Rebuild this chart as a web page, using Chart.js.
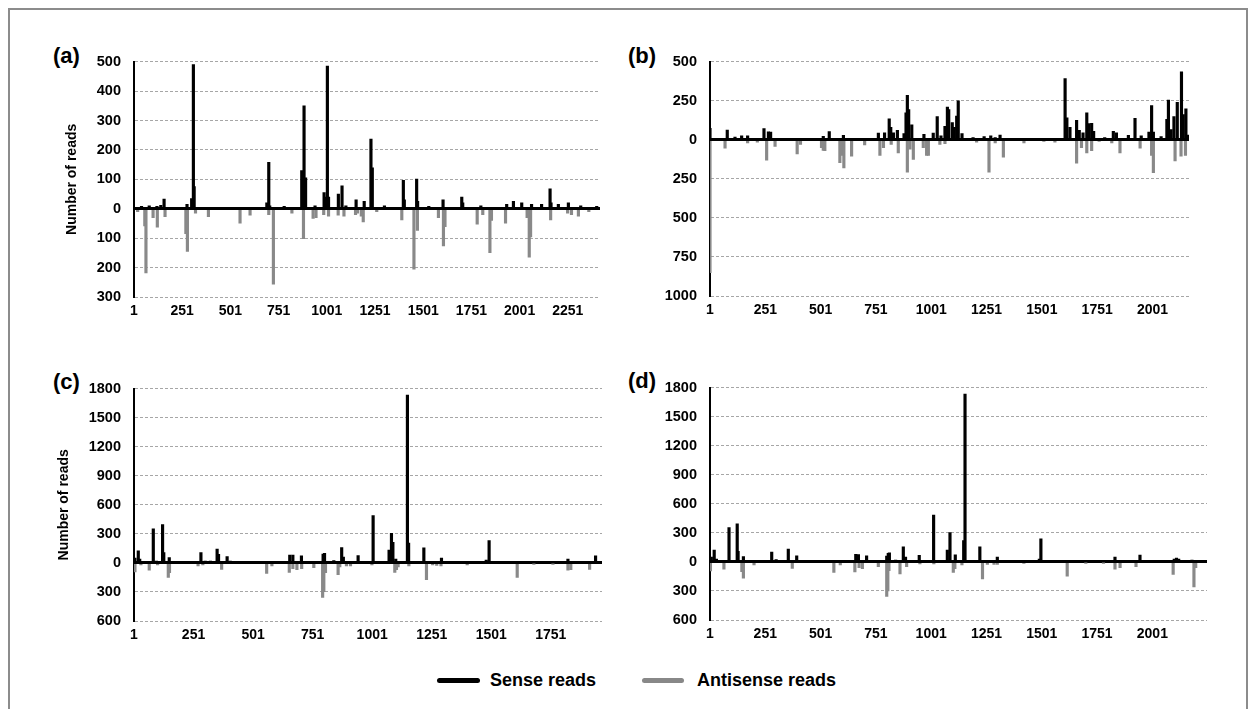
<!DOCTYPE html>
<html>
<head>
<meta charset="utf-8">
<script src="https://cdn.jsdelivr.net/npm/chart.js@4.4.0/dist/chart.umd.min.js"></script>
<style>
  body { margin: 0; background: #fff; font-family: "Liberation Sans", Arial, sans-serif; }
  #frame { position: absolute; left: 8px; top: 8px; width: 1240px; height: 730px; border: 2px solid #8c8c8c; box-sizing: border-box; }
  .box { position: absolute; }
  .tag { position: absolute; font-weight: bold; font-size: 22px; line-height: 22px; color: #000; }
  .key { position: absolute; height: 5px; border-radius: 3px; }
  .keytext { position: absolute; font-weight: bold; font-size: 18px; line-height: 20px; color: #000; }
</style>
</head>
<body>
<div id="frame"></div>

<div class="tag" style="left:53px;top:45px">(a)</div>
<div class="tag" style="left:628px;top:45px">(b)</div>
<div class="tag" style="left:53px;top:371px">(c)</div>
<div class="tag" style="left:628px;top:370px">(d)</div>

<div class="box" style="left:48px;top:40px;width:556px;height:285px"><canvas id="chartA"></canvas></div>
<div class="box" style="left:624px;top:40px;width:569px;height:284px"><canvas id="chartB"></canvas></div>
<div class="box" style="left:48px;top:367px;width:558px;height:282px"><canvas id="chartC"></canvas></div>
<div class="box" style="left:624px;top:366px;width:587px;height:282px"><canvas id="chartD"></canvas></div>

<!-- 凡例 -->
<div class="key" style="left:437px;top:678px;width:43px;background:#000"></div>
<div class="keytext" style="left:490px;top:670px">Sense reads</div>
<div class="key" style="left:642px;top:678px;width:42px;background:#888"></div>
<div class="keytext" style="left:697px;top:670px">Antisense reads</div>

<script>
// 位置, リード数
const senseA = [[5,5],[40,8],[80,10],[120,8],[140,12],[157,33],[276,15],[300,35],[309,490],[313,75],[350,5],[420,4],[500,5],[620,5],[690,20],[700,158],[705,10],[780,8],[871,130],[877,50],[883,350],[891,105],[940,10],[987,55],[995,40],[1004,485],[1010,40],[1061,50],[1080,78],[1100,10],[1153,30],[1195,25],[1230,237],[1237,139],[1300,10],[1398,97],[1403,30],[1467,101],[1472,25],[1530,8],[1604,30],[1701,40],[1706,20],[1800,10],[1934,15],[1969,25],[2012,20],[2063,15],[2115,15],[2159,68],[2164,20],[2202,15],[2254,20],[2318,10],[2401,8]]
const antiA = [[20,10],[57,58],[63,218],[100,30],[122,63],[162,27],[270,85],[278,145],[320,15],[387,27],[551,49],[603,22],[700,20],[724,256],[820,15],[880,102],[930,33],[945,30],[985,20],[1010,25],[1060,22],[1090,25],[1150,20],[1160,15],[1180,25],[1190,45],[1260,10],[1390,38],[1453,205],[1471,74],[1580,30],[1606,126],[1614,61],[1781,52],[1810,20],[1847,149],[1855,40],[1928,49],[2040,30],[2051,165],[2058,96],[2162,38],[2250,15],[2270,20],[2306,25],[2360,10]]

const senseB = [[1,74],[40,5],[79,63],[114,18],[144,25],[171,25],[200,8],[245,72],[265,51],[275,50],[350,6],[450,5],[513,23],[540,53],[604,29],[680,10],[762,43],[790,45],[811,135],[818,80],[830,45],[848,60],[878,40],[887,172],[893,285],[899,193],[913,96],[968,35],[1010,43],[1028,148],[1045,25],[1063,86],[1074,209],[1080,193],[1096,111],[1105,80],[1116,152],[1123,250],[1140,40],[1190,15],[1240,20],[1270,25],[1290,15],[1312,30],[1420,10],[1580,10],[1606,392],[1614,141],[1628,80],[1658,125],[1670,60],[1687,45],[1704,172],[1712,104],[1726,106],[1735,55],[1785,15],[1824,55],[1838,45],[1892,29],[1922,137],[1950,25],[1985,49],[1997,219],[2005,50],[2040,20],[2066,131],[2073,254],[2085,65],[2098,148],[2113,240],[2132,435],[2140,162],[2152,199],[2160,30]]
const antiB = [[1,850],[69,53],[171,20],[215,15],[257,131],[295,43],[395,90],[410,30],[505,50],[513,68],[520,70],[588,146],[597,100],[606,180],[641,105],[700,33],[769,100],[785,50],[820,30],[852,84],[893,207],[905,60],[920,125],[965,50],[980,100],[988,100],[1040,30],[1063,25],[1206,15],[1262,207],[1290,20],[1327,111],[1420,20],[1510,10],[1560,15],[1658,150],[1680,50],[1704,84],[1726,70],[1760,10],[1817,20],[1854,84],[1945,53],[1997,100],[2005,211],[2103,135],[2130,105],[2150,100]]

const senseC = [[5,50],[19,126],[25,40],[60,10],[82,353],[95,20],[121,396],[126,106],[149,56],[200,10],[230,15],[282,106],[300,20],[322,20],[350,142],[356,90],[392,66],[405,20],[470,8],[560,10],[600,8],[655,82],[668,80],[704,73],[760,10],[795,92],[801,100],[840,25],[873,158],[880,60],[942,76],[1005,488],[1072,132],[1082,307],[1088,214],[1100,40],[1149,1733],[1154,205],[1218,155],[1292,50],[1350,10],[1430,10],[1480,30],[1492,231],[1600,8],[1700,10],[1823,40],[1939,73]]
const antiC = [[5,92],[30,20],[65,76],[100,20],[145,149],[150,100],[270,30],[290,20],[369,66],[558,109],[580,30],[653,99],[668,60],[685,70],[705,60],[756,50],[793,356],[798,297],[805,100],[858,122],[865,40],[893,30],[910,30],[1000,20],[1096,99],[1103,70],[1110,40],[1155,30],[1229,172],[1255,20],[1272,25],[1290,30],[1400,20],[1610,149],[1680,10],[1760,10],[1823,76],[1835,70],[1914,66]]

const senseD = [[7,50],[20,122],[30,30],[87,354],[124,393],[128,110],[152,56],[200,15],[280,102],[300,25],[355,132],[393,62],[420,15],[530,10],[640,15],[660,79],[672,75],[709,62],[760,10],[800,60],[807,89],[812,95],[840,20],[875,155],[885,50],[947,69],[1012,485],[1074,122],[1086,304],[1110,73],[1148,220],[1154,1734],[1221,155],[1250,15],[1300,50],[1380,10],[1490,30],[1497,238],[1600,10],[1700,10],[1832,50],[1945,72],[2100,30],[2110,40],[2120,30],[2180,20]]
const antiD = [[3,92],[64,76],[145,100],[152,168],[200,30],[373,66],[561,109],[590,30],[656,102],[675,60],[690,70],[762,50],[800,356],[805,300],[810,90],[860,125],[890,50],[950,20],[1013,20],[1101,109],[1108,70],[1140,30],[1233,175],[1255,25],[1285,25],[1300,25],[1420,15],[1616,148],[1700,10],[1780,10],[1832,76],[1855,60],[1927,50],[2095,128],[2189,257],[2197,60]]

// 横軸の目盛り
const ticksA = [1, 251, 501, 751, 1001, 1251, 1501, 1751, 2001, 2251]
const ticksB = [1, 251, 501, 751, 1001, 1251, 1501, 1751, 2001]
const ticksC = [1, 251, 501, 751, 1001, 1251, 1501, 1751]
const ticksD = [1, 251, 501, 751, 1001, 1251, 1501, 1751, 2001]

const isZero = c => c.tick && c.tick.value === 0

function drawPanel(id, sense, anti, ticksX, xMax, yMin, yMax, yStep, titlePad) {
  const ctx = document.getElementById(id).getContext('2d')
  return new Chart(ctx, {
    type: 'bar',
    data: {
      datasets: [
        { label: 'Antisense reads', data: anti.map(p => ({ x: p[0], y: -p[1] })), backgroundColor: '#898989' },
        { label: 'Sense reads', data: sense.map(p => ({ x: p[0], y: p[1] })), backgroundColor: '#000' }
      ]
    },
    options: {
      animation: false,
      responsive: true,
      maintainAspectRatio: false,
      layout: { padding: { top: 12, right: 4, left: 0, bottom: 0 } },
      plugins: { legend: { display: false }, tooltip: { enabled: false } },
      datasets: { bar: { barThickness: 2.5, grouped: false } },
      scales: {
        x: {
          type: 'linear', min: 1, max: xMax, offset: false,
          grid: { display: false, drawTicks: false },
          border: { display: false },
          afterBuildTicks: s => { s.ticks = ticksX.map(v => ({ value: v })) },
          afterFit: s => { s.height = 28 },
          ticks: { color: '#000', padding: 6, maxRotation: 0, autoSkip: false,
                   font: { size: 14, weight: 'bold' }, callback: v => String(v) }
        },
        y: {
          min: yMin, max: yMax,
          afterFit: s => { s.width = 86 },
          ticks: { stepSize: yStep, color: '#000', padding: 13,
                   font: { size: 14.5, weight: 'bold' }, callback: v => String(Math.abs(v)) },
          grid: { drawTicks: false,
                  color: c => isZero(c) ? '#000' : '#a6a6a6',
                  lineWidth: c => isZero(c) ? 3 : 1 },
          border: { display: true, color: '#000', width: 2,
                    dash: c => isZero(c) ? [] : [3, 2] },
          title: {
            display: titlePad !== null, text: 'Number of reads', color: '#000',
            font: { size: 14, weight: 'bold' }, padding: { top: titlePad || 0, bottom: 0 }
          }
        }
      }
    }
  })
}

drawPanel('chartA', senseA, antiA, ticksA, 2418, -300, 500, 100, 16)
drawPanel('chartB', senseB, antiB, ticksB, 2166, -1000, 500, 250, null)
drawPanel('chartC', senseC, antiC, ticksC, 1966, -600, 1800, 300, 8)
drawPanel('chartD', senseD, antiD, ticksD, 2248, -600, 1800, 300, null)
</script>
</body>
</html>
